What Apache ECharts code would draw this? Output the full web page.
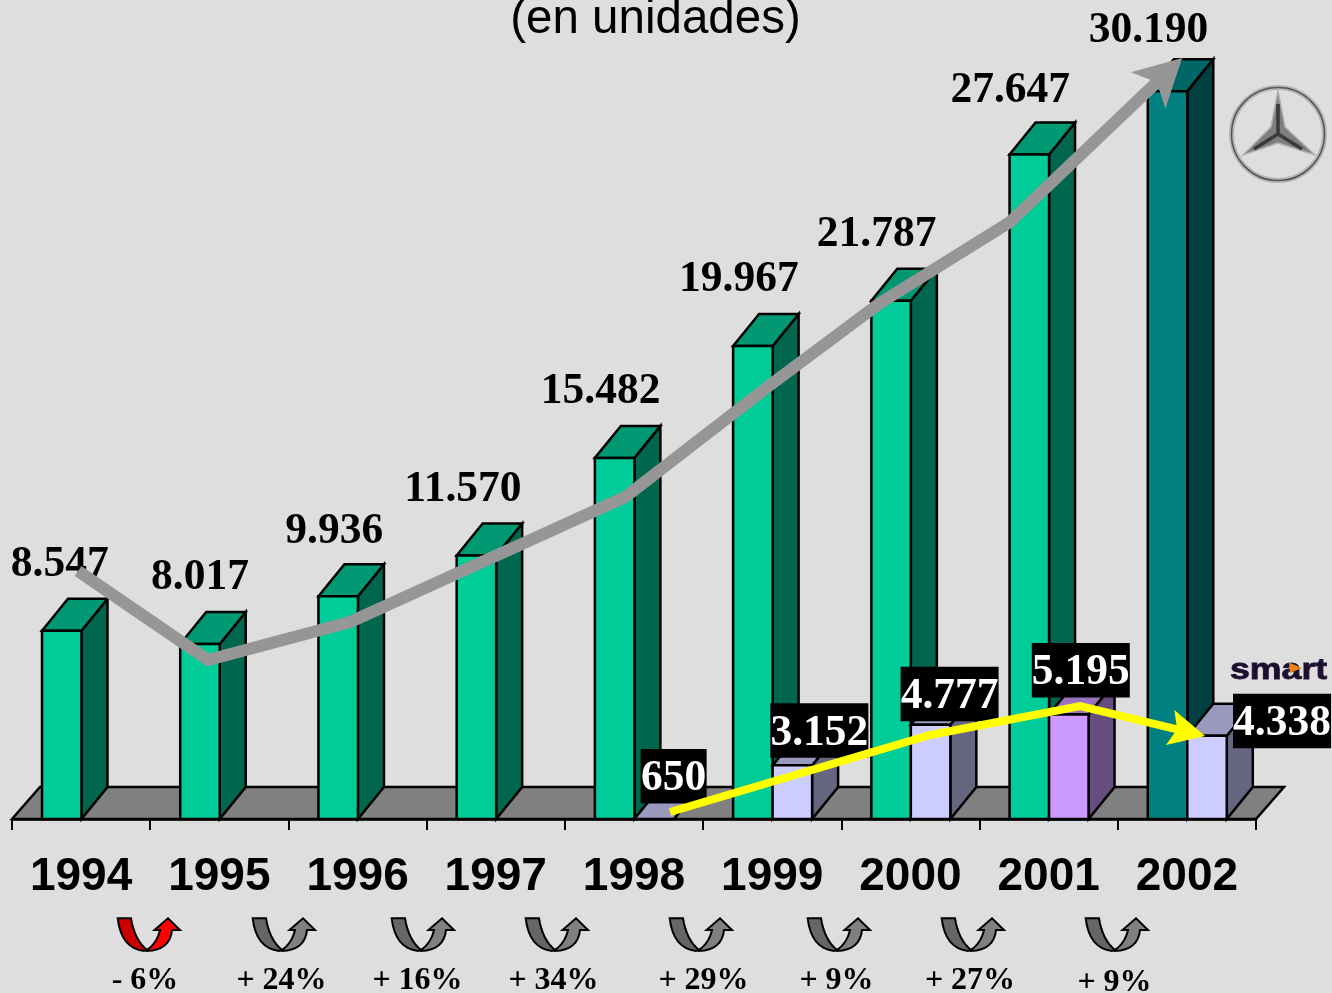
<!DOCTYPE html>
<html><head><meta charset="utf-8">
<style>html,body{margin:0;padding:0;background:#DEDEDE;overflow:hidden}#c{width:1332px;height:993px}</style>
<script src="https://cdn.jsdelivr.net/npm/echarts@6/dist/echarts.min.js"></script>
</head><body><div id="c"></div>
<script>
// ---- data ----
const years = ['1994','1995','1996','1997','1998','1999','2000','2001','2002'];
const mercedes = [8547,8017,9936,11570,15482,19967,21787,27647,30190];
const smart = [null,null,null,null,650,3152,4777,5195,4338];
const growth = ['- 6%','+ 24%','+ 16%','+ 34%','+ 29%','+ 9%','+ 27%','+ 9%'];
const mercedesTrendX = [0.478,1.418,2.446,4.436,5.485,6.281,7.22,8.466];
const mercedesTrendY = [10946,7377,8900,13914,18405,21694,24942,31519];
const smartTrendX = [4.761,6.643,7.728,8.632];
const smartTrendY = [1281,4369,5532,4329];

// ---- layout (kept apart from the data) ----
const mLabelDx = [-2,0,-4,-13.5,-14,-14,-14.5,-19,-19];
const mLabelDy = [-66,-66,-64,-66,-66,-66,-66,-64,-60];
const sLabelDx = [0,0,0,0,19.5,27,19,12,75];
const sLabelDy = [0,0,0,0,-43,-35,-31,-44.5,-15];
const growthArrowLeft = [117,252,391,525,669,807,941,1085];
const growthTextX = [145,281.5,417.5,553.5,703.5,836.5,970,1114.5];
const growthTextY = [981,981,981,981,981,981,981,983];
const BAR_W = 39.5, BAR_OFF = 30, DX = 26, DY = 32;
const fmt = v => String(v).replace(/\B(?=(\d{3})+$)/g,'.');
const GREEN = ['#00CC99','#009973','#00664D'];
const TEAL = ['#008080','#006666','#004040'];
const LILAC = ['#CCCCFF','#9999BF','#666680'];
const PURPLE = ['#CC99FF','#9973BF','#664D80'];
const line = {stroke:'#000',lineWidth:2.5,lineJoin:'miter'};

function box(x,top,base,c){
  const w=BAR_W, kids=[];
  kids.push({type:'polygon',shape:{points:[[x+w,top],[x+w+DX,top-DY],[x+w+DX,base-DY],[x+w,base]]},style:{fill:c[2],...line}});
  kids.push({type:'polygon',shape:{points:[[x,top],[x+DX,top-DY],[x+w+DX,top-DY],[x+w,top]]},style:{fill:c[1],...line}});
  if(base>top) kids.push({type:'polygon',shape:{points:[[x,top],[x+w,top],[x+w,base],[x,base]]},style:{fill:c[0],...line}});
  return {type:'group',children:kids};
}
function barGeom(api){
  const i=api.value(0), p=api.coord([i,api.value(1)]), base=api.coord([i,1000])[1];
  const band=api.size([1,0])[0];
  return {i,left:p[0]-band/2+BAR_OFF,top:Math.min(p[1],base),base};
}
function trend(xs,ys,color,width,len,half,notch){
  return function(params,api){
    if(params.dataIndex!==0) return null;
    const pts=xs.map((x,k)=>api.coord([x,ys[k]]));
    const tip=pts[pts.length-1], prev=pts[pts.length-2];
    const dx=tip[0]-prev[0], dy=tip[1]-prev[1], d=Math.hypot(dx,dy), ux=dx/d, uy=dy/d;
    const bx=tip[0]-ux*len, by=tip[1]-uy*len;
    const nx=tip[0]-ux*len*notch, ny=tip[1]-uy*len*notch;
    const head=[tip,[bx-uy*half,by+ux*half],[nx,ny],[bx+uy*half,by-ux*half]];
    const body=pts.slice(0,-1).concat([[nx,ny]]);
    return {type:'group',children:[
      {type:'polyline',shape:{points:body},style:{fill:null,stroke:color,lineWidth:width,lineJoin:'miter',lineCap:'butt'}},
      {type:'polygon',shape:{points:head},style:{fill:color}}
    ]};
  };
}
function q(a,c,b){const o=[];for(let t=0;t<=1.001;t+=0.125){const s=1-t;o.push([s*s*a[0]+2*s*t*c[0]+t*t*b[0],s*s*a[1]+2*s*t*c[1]+t*t*b[1]]);}return o;}
const arrowLeft=[[0.7,1.3],[14,1.3]].concat(q([14,1.3],[17.5,23],[30,33]),q([27,34],[4,31],[0.7,1.3]));
const arrowRight=q([30,33],[40,26],[43,13]).concat([[37.5,13],[51,1.3],[63,13],[55,13]],q([55,13],[53,33],[30,34]));

const graphicEls=[];
growth.forEach((g,i)=>{
  const neg=g.charAt(0)==='-';
  graphicEls.push({type:'group',x:growthArrowLeft[i],y:917,children:[
    {type:'polygon',shape:{points:arrowLeft},style:{fill:neg?'#CC0000':'#666666',...line,lineWidth:2}},
    {type:'polygon',shape:{points:arrowRight},style:{fill:neg?'#FF0000':'#808080',...line,lineWidth:2}}
  ]});
  graphicEls.push({type:'text',x:growthTextX[i],y:growthTextY[i],style:{text:g,fill:'#000',font:'bold 32px "Liberation Serif"',align:'center',verticalAlign:'middle',textAlign:'center',textVerticalAlign:'middle'}});
});
// Mercedes emblem
graphicEls.push({type:'circle',shape:{cx:1278,cy:134,r:46.5},style:{fill:null,stroke:'#B5B5B5',lineWidth:5}});
graphicEls.push({type:'circle',shape:{cx:1278,cy:134,r:46.5},style:{fill:null,stroke:'#555',lineWidth:1.5}});
graphicEls.push({type:'polygon',shape:{points:[[1278,91],[1285,127],[1315,155],[1278,143],[1243,155],[1271,127]]},style:{fill:'#7E7E7E',stroke:'#B0B0B0',lineWidth:1.5}});
graphicEls.push({type:'polyline',shape:{points:[[1278,104],[1278,134],[1254,149]]},style:{fill:null,stroke:'#3A3A3A',lineWidth:3.5}});
graphicEls.push({type:'polyline',shape:{points:[[1278,134],[1302,149]]},style:{fill:null,stroke:'#3A3A3A',lineWidth:3.5}});
// smart logo
graphicEls.push({type:'text',x:1230,y:686,scaleX:1.19,style:{text:'smart',fill:'#1C0F30',stroke:'#1C0F30',lineWidth:0.8,font:'bold 30px "Liberation Sans"',align:'left',verticalAlign:'bottom',textAlign:'left',textVerticalAlign:'bottom'}});
graphicEls.push({type:'polygon',shape:{points:[[1289,662.5],[1302,668],[1290,673]]},style:{fill:'#E8821A'}});

const chart=echarts.init(document.getElementById('c'),null,{renderer:'canvas'});
chart.setOption({
  animation:false,
  backgroundColor:'#DEDEDE',
  title:{text:'(en unidades)',left:650.5,top:-9,textAlign:'center',textStyle:{fontFamily:'"Liberation Sans"',fontSize:47.5,fontWeight:'normal',color:'#000'}},
  grid:{left:12,right:76,top:46,bottom:174},
  xAxis:[
    {type:'category',data:years,boundaryGap:true,
     axisLine:{lineStyle:{color:'#000',width:2.5}},
     axisTick:{show:true,alignWithLabel:false,length:11,lineStyle:{color:'#000',width:2}},
     axisLabel:{interval:0,margin:35,color:'#000',fontFamily:'"Liberation Sans"',fontWeight:'bold',fontSize:46},z:5},
    {type:'value',min:0,max:9,show:false}
  ],
  yAxis:{type:'value',min:1000,max:32000,show:false},
  graphic:{elements:graphicEls},
  series:[
    {type:'custom',name:'floor',data:[[0,1000]],encode:{x:0,y:1},z:1,silent:true,
     renderItem:(p,api)=>{
       const a=api.coord([0,1000]),band=api.size([1,0])[0],l=a[0]-band/2,r=l+band*years.length,y=a[1];
       return {type:'polygon',shape:{points:[[l,y],[l+28,y-32],[r+28,y-32],[r,y]]},style:{fill:'#808080',...line}};
     }},
    {type:'custom',name:'Mercedes',data:mercedes.map((v,i)=>[i,v]),encode:{x:0,y:1},z:2,
     renderItem:(p,api)=>{const g=barGeom(api);return box(g.left,g.top,g.base,g.i===years.length-1?TEAL:GREEN);}},
    {type:'custom',name:'smart',data:smart.map((v,i)=>[i,v]).filter(d=>d[1]!==null),encode:{x:0,y:1},z:3,
     renderItem:(p,api)=>{const g=barGeom(api);return box(g.left+BAR_W,g.top,g.base,years[g.i]==='2001'?PURPLE:LILAC);}},
    {type:'custom',name:'MercedesLabels',data:mercedes.map((v,i)=>[i,v]),encode:{x:0,y:1},z:4,
     renderItem:(p,api)=>{const g=barGeom(api);
       return {type:'text',x:g.left+BAR_W/2+mLabelDx[g.i],y:g.top+mLabelDy[g.i],style:{text:fmt(api.value(1)),fill:'#000',font:'bold 43.5px "Liberation Serif"',align:'center',verticalAlign:'middle',textAlign:'center',textVerticalAlign:'middle'}};}},
    {type:'custom',name:'smartLabels',data:smart.map((v,i)=>[i,v]).filter(d=>d[1]!==null),encode:{x:0,y:1},z:4,
     renderItem:(p,api)=>{const g=barGeom(api);
       const t=fmt(api.value(1)),w=t.length===3?66:98,cx=g.left+BAR_W*1.5+sLabelDx[g.i],cy=g.top+sLabelDy[g.i];
       return {type:'group',children:[
         {type:'rect',shape:{x:cx-w/2,y:cy-27,width:w,height:54.5},style:{fill:'#000'}},
         {type:'text',x:cx,y:cy+3,style:{text:t,fill:'#fff',font:'bold 43.5px "Liberation Serif"',align:'center',verticalAlign:'middle',textAlign:'center',textVerticalAlign:'middle'}}
       ]};}},
    {type:'custom',name:'MercedesTrend',xAxisIndex:1,data:mercedesTrendX.map((x,k)=>[x,mercedesTrendY[k]]),encode:{x:0,y:1},z:6,
     renderItem:trend(mercedesTrendX,mercedesTrendY,'#969696',12,47,25,0.75)},
    {type:'custom',name:'smartTrend',xAxisIndex:1,data:smartTrendX.map((x,k)=>[x,smartTrendY[k]]),encode:{x:0,y:1},z:7,
     renderItem:trend(smartTrendX,smartTrendY,'#FFFF00',8,36,18,0.8)}
  ]
});
</script></body></html>
